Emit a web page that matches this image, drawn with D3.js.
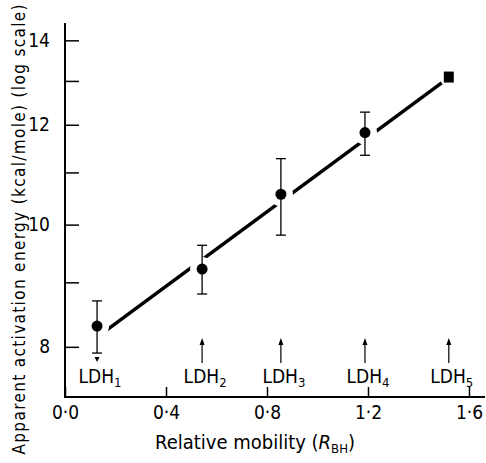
<!DOCTYPE html>
<html>
<head>
<meta charset="utf-8">
<script src="https://cdn.jsdelivr.net/npm/d3@7"></script>
<style>
  body { margin: 0; background: #fff; }
  svg text { font-family: "Liberation Sans Narrow", "DejaVu Sans Condensed", "Liberation Sans", Arial, sans-serif; fill: #000; }
</style>
</head>
<body>
<div id="chart"></div>
<script>
// isozymes, relative mobility (R_BH) and apparent activation energy (kcal/mole)
var isozymes = ["1", "2", "3", "4", "5"];
var mobility = [0.127, 0.543, 0.855, 1.188, 1.52];
var energy   = [8.31, 9.22, 10.57, 11.83, 13.08];
var errLow   = [7.91, 8.81, 9.81, 11.35, null];
var errHigh  = [8.70, 9.63, 11.28, 12.28, null];
var arrowDir = ["down", "up", "up", "up", "up"];

// fitted line (drawn from just past LDH1 to LDH5)
var fitX = [0.162, 1.52];
var fitY = [8.24, 13.08];

var xTicks = [0, 0.4, 0.8, 1.2, 1.6];
var yTicks = [8, 9, 10, 11, 12, 13, 14];
var yLabelled = [8, 10, 12, 14];

var width = 486, height = 463;

var svg = d3.select("#chart")
  .append("svg")
    .attr("width", width)
    .attr("height", height);

var x = d3.scaleLinear()
    .domain([0, 1.6])
    .range([65, 469]);

var y = d3.scaleLog()
    .domain([7.3, 14.45])
    .range([397, 23]);

var fmt = function(d) { return d3.format(".1f")(d).replace(".", "\u00b7"); };

// x axis
var xAxis = svg.append("g")
    .attr("transform", "translate(0," + y(7.3) + ")")
    .call(d3.axisBottom(x)
      .tickValues(xTicks)
      .tickSizeInner(-10)
      .tickSizeOuter(0)
      .tickPadding(9)
      .tickFormat(fmt));
xAxis.select(".domain").remove();
xAxis.append("line")
    .attr("x1", x(0) - 1).attr("x2", 485)
    .attr("stroke", "#000").attr("stroke-width", 2);
xAxis.selectAll(".tick line").attr("stroke-width", 1.5);
xAxis.selectAll(".tick text")
    .attr("font-size", 19)
    .attr("font-family", null);

// y axis
var yAxis = svg.append("g")
    .attr("transform", "translate(" + x(0) + ",0)")
    .call(d3.axisLeft(y)
      .tickValues(yTicks)
      .tickSizeInner(-14)
      .tickSizeOuter(0)
      .tickPadding(15)
      .tickFormat(function(d) { return yLabelled.indexOf(d) >= 0 ? d : ""; }));
yAxis.select(".domain").remove();
yAxis.append("line")
    .attr("y1", y(14.45)).attr("y2", y(7.3) + 1)
    .attr("stroke", "#000").attr("stroke-width", 2);
yAxis.selectAll(".tick line").attr("stroke-width", 1.5);
yAxis.selectAll(".tick text")
    .attr("font-size", 19)
    .attr("font-family", null);

// axis titles
svg.append("text")
    .attr("transform", "translate(25," + (height / 2 - 2) + ") rotate(-90)")
    .attr("text-anchor", "middle")
    .attr("font-size", 17)
    .attr("textLength", 450)
    .attr("lengthAdjust", "spacing")
    .text("Apparent activation energy (kcal/mole) (log scale)");

var xt = svg.append("text")
    .attr("x", 255)
    .attr("y", 449)
    .attr("text-anchor", "middle")
    .attr("font-size", 20);
xt.append("tspan").text("Relative  mobility (");
xt.append("tspan").attr("font-style", "italic").text("R");
xt.append("tspan").attr("font-size", 13).attr("dy", 4).text("BH");
xt.append("tspan").attr("dy", -4).text(")");

// regression line
var line = d3.line()
    .x(function(d) { return x(d[0]); })
    .y(function(d) { return y(d[1]); });

svg.append("path")
    .datum(d3.zip(fitX, fitY))
    .attr("d", line)
    .attr("fill", "none")
    .attr("stroke", "#000")
    .attr("stroke-width", 3.5);

var pts = mobility.map(function(m, i) {
  return { m: m, e: energy[i], lo: errLow[i], hi: errHigh[i], name: isozymes[i], dir: arrowDir[i] };
});

// white gaps where the line meets the points
svg.append("g")
  .selectAll("circle")
  .data(pts.slice(0, 4))
  .enter()
  .append("circle")
    .attr("cx", function(d) { return x(d.m); })
    .attr("cy", function(d) { return y(d.e); })
    .attr("r", 12)
    .attr("fill", "#fff");
svg.append("circle")
    .datum(pts[4])
    .attr("cx", function(d) { return x(d.m); })
    .attr("cy", function(d) { return y(d.e); })
    .attr("r", 9)
    .attr("fill", "#fff");

// error bars
var eb = svg.append("g")
    .attr("stroke", "#000")
    .attr("stroke-width", 1.3)
  .selectAll("g")
  .data(pts.filter(function(d) { return d.lo != null; }))
  .enter()
  .append("g");
eb.append("line")
    .attr("x1", function(d) { return x(d.m); })
    .attr("x2", function(d) { return x(d.m); })
    .attr("y1", function(d) { return y(d.lo); })
    .attr("y2", function(d) { return y(d.hi); });
eb.append("line")
    .attr("x1", function(d) { return x(d.m) - 5; })
    .attr("x2", function(d) { return x(d.m) + 5; })
    .attr("y1", function(d) { return y(d.lo); })
    .attr("y2", function(d) { return y(d.lo); });
eb.append("line")
    .attr("x1", function(d) { return x(d.m) - 5; })
    .attr("x2", function(d) { return x(d.m) + 5; })
    .attr("y1", function(d) { return y(d.hi); })
    .attr("y2", function(d) { return y(d.hi); });

// points (LDH5 drawn as a square)
svg.append("g")
  .selectAll("circle")
  .data(pts.slice(0, 4))
  .enter()
  .append("circle")
    .attr("cx", function(d) { return x(d.m); })
    .attr("cy", function(d) { return y(d.e); })
    .attr("r", 5.5)
    .attr("fill", "#000");

svg.append("rect")
    .datum(pts[4])
    .attr("x", function(d) { return x(d.m) - 5; })
    .attr("y", function(d) { return y(d.e) - 6; })
    .attr("width", 10)
    .attr("height", 11)
    .attr("fill", "#000");

// arrows marking isozyme positions
var arrowBottom = 363, arrowTop = 338;
var ar = svg.append("g")
  .selectAll("g")
  .data(pts)
  .enter()
  .append("g")
    .attr("transform", function(d) { return "translate(" + x(d.m) + ",0)"; });
ar.filter(function(d) { return d.dir === "up"; })
  .append("line")
    .attr("y1", arrowBottom).attr("y2", arrowTop + 4)
    .attr("stroke", "#000").attr("stroke-width", 1.2);
ar.append("path")
    .attr("d", function(d) {
      return d.dir === "up"
        ? "M-2.5," + (arrowTop + 7) + "L0," + arrowTop + "L2.5," + (arrowTop + 7) + "Z"
        : "M-2.5," + (arrowBottom - 6) + "L0," + (arrowBottom - 1) + "L2.5," + (arrowBottom - 6) + "Z";
    })
    .attr("fill", "#000");

var lab = ar.append("text")
    .attr("x", 3)
    .attr("y", 383)
    .attr("text-anchor", "middle")
    .attr("font-size", 19);
lab.append("tspan").text("LDH");
lab.append("tspan").attr("font-size", 13).attr("dy", 4).text(function(d) { return d.name; });
</script>
</body>
</html>
